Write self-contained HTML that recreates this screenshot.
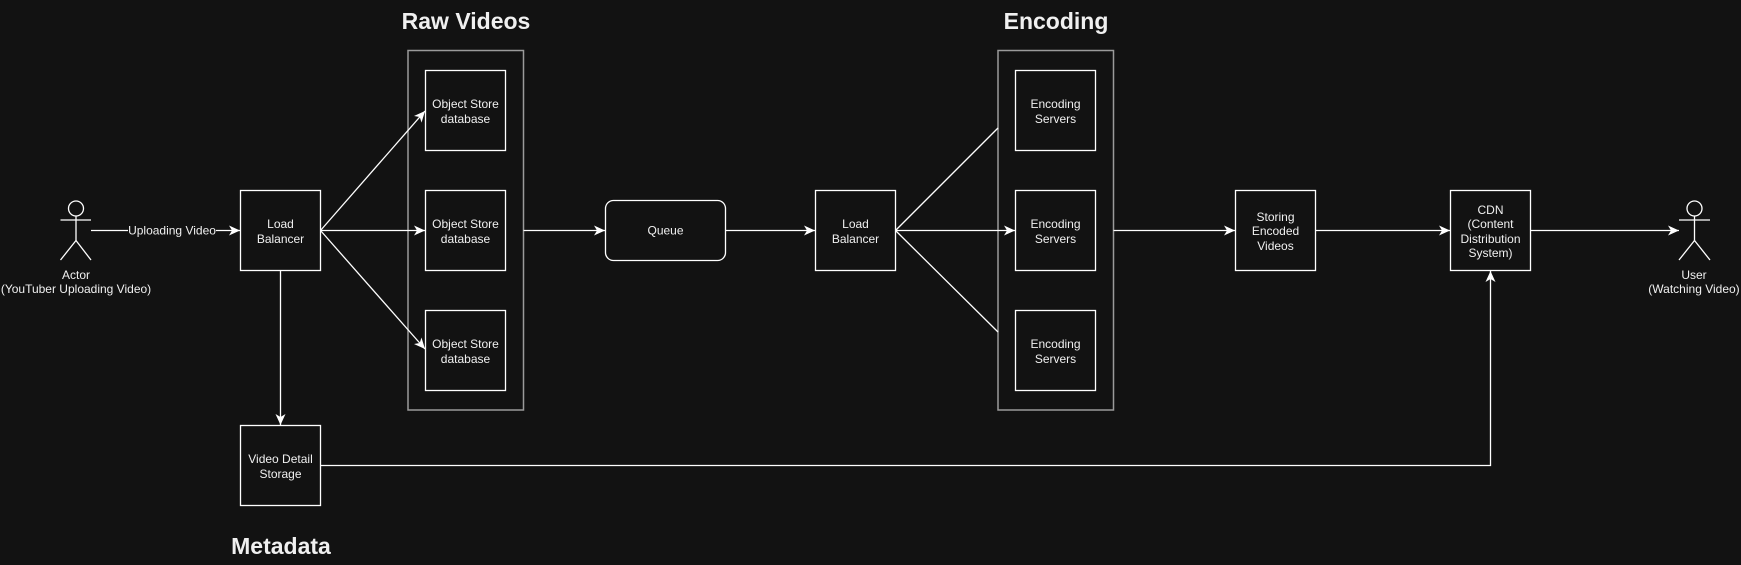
<!DOCTYPE html>
<html><head><meta charset="utf-8"><style>
html,body{margin:0;padding:0;background:#121212;}
svg{display:block}
text{font-family:"Liberation Sans",Arial,sans-serif;fill:#f0f0f0;font-size:12px;text-anchor:middle}
.t{font-size:23px;font-weight:bold}
</style></head><body>
<svg width="1741" height="565" viewBox="0 0 1741 565" xmlns="http://www.w3.org/2000/svg">
<defs>
<marker id="a" markerWidth="12" markerHeight="12" refX="11" refY="6" orient="auto" markerUnits="userSpaceOnUse">
<path d="M0,1 L11,6 L0,11 L3,6 Z" fill="#fff"/>
</marker>
</defs>
<rect width="1741" height="565" fill="#121212"/>
<g fill="none" stroke="#fff" stroke-width="1.3">
<circle cx="76" cy="208.5" r="7.5"/>
<line x1="76" y1="216" x2="76" y2="240.5"/>
<line x1="60.5" y1="220" x2="91" y2="220"/>
<line x1="76" y1="240.5" x2="60.5" y2="260"/>
<line x1="76" y1="240.5" x2="91" y2="260"/>
<circle cx="1694.5" cy="208.5" r="7.5"/>
<line x1="1694.5" y1="216" x2="1694.5" y2="240.5"/>
<line x1="1679" y1="220" x2="1710" y2="220"/>
<line x1="1694.5" y1="240.5" x2="1679" y2="260"/>
<line x1="1694.5" y1="240.5" x2="1710" y2="260"/>
<rect x="408" y="50.5" width="115.5" height="359.5" stroke="#9a9a9a" stroke-width="1.5"/>
<rect x="998" y="50.5" width="115.5" height="359.5" stroke="#9a9a9a" stroke-width="1.5"/>
<rect x="240.5" y="190.5" width="80" height="80"/>
<rect x="240.5" y="425.5" width="80" height="80"/>
<rect x="425.5" y="70.5" width="80" height="80"/>
<rect x="425.5" y="190.5" width="80" height="80"/>
<rect x="425.5" y="310.5" width="80" height="80"/>
<rect x="605.5" y="200.5" width="120" height="60" rx="8"/>
<rect x="815.5" y="190.5" width="80" height="80"/>
<rect x="1015.5" y="70.5" width="80" height="80"/>
<rect x="1015.5" y="190.5" width="80" height="80"/>
<rect x="1015.5" y="310.5" width="80" height="80"/>
<rect x="1235.5" y="190.5" width="80" height="80"/>
<rect x="1450.5" y="190.5" width="80" height="80"/>
<line x1="91" y1="230.5" x2="128" y2="230.5"/>
<line x1="216" y1="230.5" x2="240" y2="230.5" marker-end="url(#a)"/>
<line x1="320.5" y1="230.5" x2="425" y2="111" marker-end="url(#a)"/>
<line x1="320.5" y1="230.5" x2="425" y2="230.5" marker-end="url(#a)"/>
<line x1="320.5" y1="230.5" x2="425" y2="349" marker-end="url(#a)"/>
<line x1="280.5" y1="270.5" x2="280.5" y2="425" marker-end="url(#a)"/>
<line x1="523.5" y1="230.5" x2="605" y2="230.5" marker-end="url(#a)"/>
<line x1="725.5" y1="230.5" x2="815" y2="230.5" marker-end="url(#a)"/>
<line x1="895.5" y1="230.5" x2="998" y2="128"/>
<line x1="895.5" y1="230.5" x2="1015" y2="230.5" marker-end="url(#a)"/>
<line x1="895.5" y1="230.5" x2="998" y2="332"/>
<line x1="1113.5" y1="230.5" x2="1235" y2="230.5" marker-end="url(#a)"/>
<line x1="1315.5" y1="230.5" x2="1450" y2="230.5" marker-end="url(#a)"/>
<line x1="1530.5" y1="230.5" x2="1679" y2="230.5" marker-end="url(#a)"/>
<polyline points="320.5,465.5 1490.5,465.5 1490.5,271" marker-end="url(#a)"/>
</g>
<text class="t" x="466" y="29">Raw Videos</text>
<text class="t" x="1056" y="29">Encoding</text>
<text class="t" x="281" y="554">Metadata</text>
<text x="76" y="279">Actor</text>
<text x="76" y="293">(YouTuber Uploading Video)</text>
<text x="1694" y="279">User</text>
<text x="1694" y="293">(Watching Video)</text>
<text x="172" y="234.5">Uploading Video</text>
<text x="280.5" y="228">Load</text><text x="280.5" y="243">Balancer</text>
<text x="280.5" y="463">Video Detail</text><text x="280.5" y="478">Storage</text>
<text x="465.5" y="108">Object Store</text><text x="465.5" y="123">database</text>
<text x="465.5" y="228">Object Store</text><text x="465.5" y="243">database</text>
<text x="465.5" y="348">Object Store</text><text x="465.5" y="363">database</text>
<text x="665.5" y="234.5">Queue</text>
<text x="855.5" y="228">Load</text><text x="855.5" y="243">Balancer</text>
<text x="1055.5" y="108">Encoding</text><text x="1055.5" y="123">Servers</text>
<text x="1055.5" y="228">Encoding</text><text x="1055.5" y="243">Servers</text>
<text x="1055.5" y="348">Encoding</text><text x="1055.5" y="363">Servers</text>
<text x="1275.5" y="221">Storing</text><text x="1275.5" y="235">Encoded</text><text x="1275.5" y="250">Videos</text>
<text x="1490.5" y="214">CDN</text><text x="1490.5" y="228">(Content</text><text x="1490.5" y="243">Distribution</text><text x="1490.5" y="257">System)</text>
</svg>
</body></html>
